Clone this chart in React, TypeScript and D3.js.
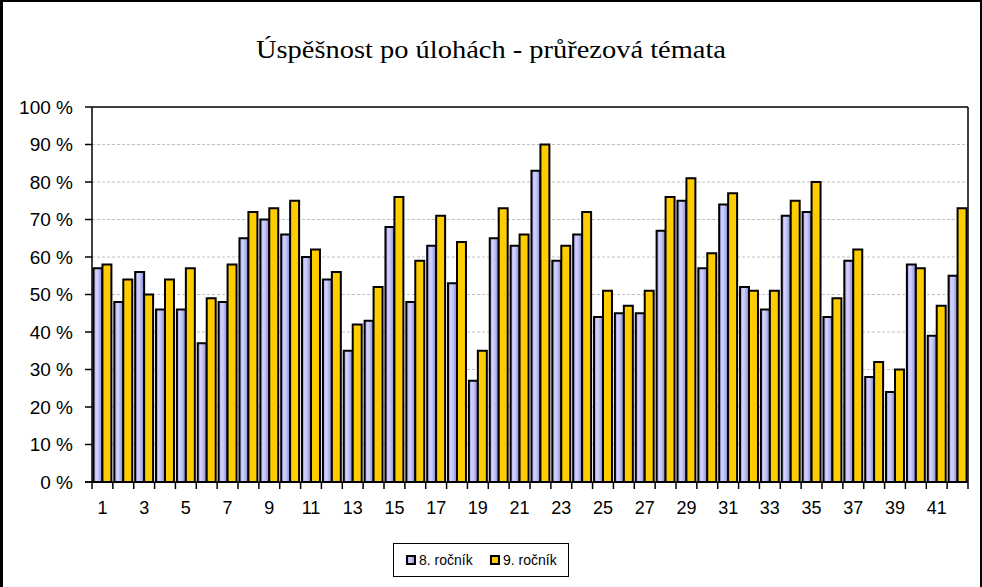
import React from "react";
import * as d3 from "d3";

const categories = Array.from({ length: 42 }, (_, i) => String(i + 1));
const seriesNames = ["8. ročník", "9. ročník"];
const grade8 = [57, 48, 56, 46, 46, 37, 48, 65, 70, 66, 60, 54, 35, 43, 68, 48, 63, 53, 27, 65, 63, 83, 59, 66, 44, 45, 45, 67, 75, 57, 74, 52, 46, 71, 72, 44, 59, 28, 24, 58, 39, 55];
const grade9 = [58, 54, 50, 54, 57, 49, 58, 72, 73, 75, 62, 56, 42, 52, 76, 59, 71, 64, 35, 73, 66, 90, 63, 72, 51, 47, 51, 76, 81, 61, 77, 51, 51, 75, 80, 49, 62, 32, 30, 57, 47, 73];
const yTicks = [0, 10, 20, 30, 40, 50, 60, 70, 80, 90, 100];
const title = "Úspěšnost po úlohách - průřezová témata";

const W = 982;
const H = 587;
const left = 92;
const right = 968;
const top = 107;
const bottom = 482;

export default function App() {
  const x0 = d3
    .scaleBand<string>()
    .domain(categories)
    .range([left, right])
    .paddingInner(0.14)
    .paddingOuter(0.07);
  const x1 = d3.scaleBand<number>().domain([0, 1]).range([0, x0.bandwidth()]);
  const y = d3.scaleLinear().domain([0, 100]).range([bottom, top]);
  const step = (right - left) / categories.length;
  const series = [grade8, grade9];
  const fills = ["url(#purpleGrad)", "#FFCC00"];
  const sans = "Arial, 'Liberation Sans', sans-serif";

  return (
    <svg
      width={W}
      height={H}
      style={{ position: "fixed", left: 0, top: 0, background: "#fff" }}
      xmlns="http://www.w3.org/2000/svg"
    >
      <defs>
        <linearGradient id="purpleGrad" x1="0" x2="1" y1="0" y2="0">
          <stop offset="0%" stopColor="#8a8ad0" />
          <stop offset="30%" stopColor="#d4d4ff" />
          <stop offset="55%" stopColor="#c4c4fa" />
          <stop offset="100%" stopColor="#8080c8" />
        </linearGradient>
      </defs>
      <rect x={0} y={0} width={W} height={H} fill="#fff" />
      {/* outer frame */}
      <line x1={1.5} y1={0} x2={1.5} y2={H} stroke="#000" strokeWidth={3} />
      <line x1={0} y1={1} x2={W} y2={1} stroke="#000" strokeWidth={2} />
      <line x1={981} y1={0} x2={981} y2={H} stroke="#000" strokeWidth={2} />

      <text
        x={491}
        y={58}
        textAnchor="middle"
        fontFamily="'Palatino Linotype', 'Book Antiqua', Palatino, 'Liberation Serif', 'DejaVu Serif', serif"
        fontSize={26}
        textLength={470}
        lengthAdjust="spacingAndGlyphs"
      >
        {title}
      </text>

      {/* gridlines */}
      {yTicks
        .filter((t) => t > 0 && t < 100)
        .map((t) => (
          <line
            key={"g" + t}
            x1={left}
            x2={right}
            y1={y(t)}
            y2={y(t)}
            stroke="#c0c0c0"
            strokeWidth={1}
            strokeDasharray="3,2"
          />
        ))}
      {/* plot area top/right border */}
      <line x1={left} x2={right} y1={top} y2={top} stroke="#000" strokeWidth={1.5} />
      <line x1={right} x2={right} y1={top} y2={bottom} stroke="#000" strokeWidth={1.5} />

      {/* bars */}
      {categories.map((c, i) => (
        <g key={c} transform={`translate(${x0(c)},0)`}>
          {series.map((s, k) => (
            <rect
              key={k}
              x={x1(k)}
              y={y(s[i])}
              width={x1.bandwidth()}
              height={bottom - y(s[i])}
              fill={fills[k]}
              stroke="#000"
              strokeWidth={2}
            />
          ))}
        </g>
      ))}

      {/* axes */}
      <line x1={left} x2={left} y1={top} y2={bottom} stroke="#000" strokeWidth={1.5} />
      <line x1={left - 7} x2={right} y1={bottom} y2={bottom} stroke="#000" strokeWidth={1.5} />
      {yTicks.map((t) => (
        <g key={"yt" + t}>
          <line x1={left - 7} x2={left} y1={y(t)} y2={y(t)} stroke="#000" strokeWidth={1.5} />
          <text
            x={73}
            y={y(t)}
            dy="0.35em"
            textAnchor="end"
            fontFamily={sans}
            fontSize={19}
            fill="#000"
          >
            {t} %
          </text>
        </g>
      ))}
      {d3.range(categories.length + 1).map((i) => (
        <line
          key={"xt" + i}
          x1={left + i * step}
          x2={left + i * step}
          y1={bottom}
          y2={bottom + 7}
          stroke="#000"
          strokeWidth={1.5}
        />
      ))}
      {categories.map((c, i) =>
        i % 2 === 0 ? (
          <text
            key={"xl" + c}
            x={(x0(c) as number) + x0.bandwidth() / 2}
            y={514}
            textAnchor="middle"
            fontFamily={sans}
            fontSize={18}
            fill="#000"
          >
            {c}
          </text>
        ) : null
      )}

      {/* legend */}
      <rect x={393.5} y={543.5} width={175} height={33} fill="#fff" stroke="#000" strokeWidth={1} />
      {seriesNames.map((n, k) => {
        const lx = k === 0 ? 407 : 491;
        return (
          <g key={n}>
            <rect x={lx} y={556} width={8} height={8} fill={fills[k]} stroke="#000" strokeWidth={2} />
            <text x={lx + 12} y={565} fontFamily={sans} fontSize={14} fill="#000">
              {n}
            </text>
          </g>
        );
      })}
    </svg>
  );
}
